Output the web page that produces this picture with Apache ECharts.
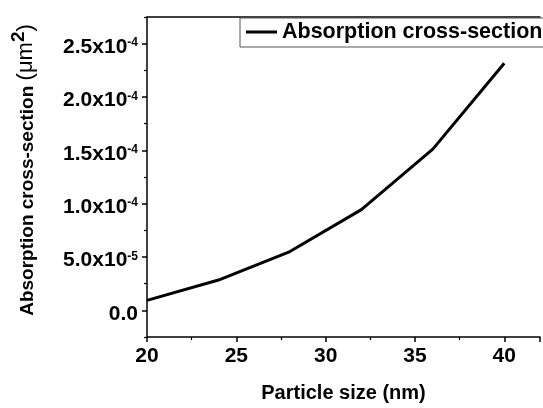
<!DOCTYPE html>
<html>
<head>
<meta charset="utf-8">
<script src="https://cdn.jsdelivr.net/npm/echarts@6/dist/echarts.min.js"></script>
<style>
html,body{margin:0;padding:0;background:#fff;}
#chart{width:543px;height:408px;}
</style>
</head>
<body>
<div id="chart"></div>
<script>
var seriesName = 'Absorption cross-section';
var particleSizes = [20, 24, 28, 32, 36, 40];
var crossSections = [9.3e-6, 2.84e-5, 5.51e-5, 9.44e-5, 1.511e-4, 2.317e-4];
var yTickValues = [0, 5e-5, 1e-4, 1.5e-4, 2e-4, 2.5e-4];
var yTickLabels = ['0.0', '5.0x10{s|-5}', '1.0x10{s|-4}', '1.5x10{s|-4}', '2.0x10{s|-4}', '2.5x10{s|-4}'];
var yMinorValues = [-2.5e-5, 2.5e-5, 7.5e-5, 1.25e-4, 1.75e-4, 2.25e-4, 2.75e-4];
var xAxisTitle = 'Particle size (nm)';

var FONT = '"Liberation Sans", Arial, sans-serif';
var chart = echarts.init(document.getElementById('chart'));
var data = particleSizes.map(function (x, i) { return [x, crossSections[i]]; });

function yLabel(v) {
  for (var i = 0; i < yTickValues.length; i++) {
    if (Math.abs(v - yTickValues[i]) < 1e-9) return yTickLabels[i];
  }
  return '';
}

var yMin = -2.5e-5, yMax = 2.75e-4;

chart.setOption({
  animation: false,
  backgroundColor: '#ffffff',
  grid: { left: 147, top: 17, right: 0, bottom: 67, containLabel: false },
  legend: {
    data: [seriesName],
    left: 240, top: 18,
    icon: 'rect', itemWidth: 31, itemHeight: 3, itemGap: 11,
    borderColor: '#555', borderWidth: 1,
    padding: [3, 10, 4, 6],
    textStyle: { fontFamily: FONT, fontWeight: 'bold', fontSize: 21.5, color: '#000' }
  },
  xAxis: [{
    type: 'value', min: 20, max: 42, interval: 5,
    axisLine: { show: true, onZero: false, lineStyle: { color: '#000', width: 1.5 } },
    axisTick: { show: true, inside: false, length: 5, lineStyle: { color: '#000', width: 1.5 } },
    minorTick: { show: true, splitNumber: 2, length: 3, lineStyle: { color: '#000', width: 1.2 } },
    splitLine: { show: false },
    axisLabel: { margin: 9, fontFamily: FONT, fontWeight: 'bold', fontSize: 21, color: '#000',
      formatter: function (v) { return v > 41 ? '' : String(v); } },
    name: xAxisTitle, nameLocation: 'middle', nameGap: 46,
    nameTextStyle: { fontFamily: FONT, fontWeight: 'bold', fontSize: 20, color: '#000' }
  }, {
    type: 'value', position: 'top', min: 20, max: 42,
    axisLine: { show: true, onZero: false, lineStyle: { color: '#000', width: 1.5 } },
    axisTick: { show: false }, axisLabel: { show: false }, splitLine: { show: false }
  }],
  yAxis: [{
    type: 'value', min: yMin, max: yMax,
    axisLine: { show: true, onZero: false, lineStyle: { color: '#000', width: 1.5 } },
    axisTick: { show: true, inside: false, length: 5, customValues: yTickValues, lineStyle: { color: '#000', width: 1.5 } },
    splitLine: { show: false },
    axisLabel: {
      customValues: yTickValues, margin: 9,
      fontFamily: FONT, fontWeight: 'bold', fontSize: 21, color: '#000',
      padding: [7, 0, 0, 0],
      formatter: yLabel,
      rich: { s: { fontFamily: FONT, fontWeight: 'bold', fontSize: 12, color: '#000', verticalAlign: 'top', lineHeight: 22, padding: [1, 0, 0, 0] } }
    },
    name: '{a|Absorption cross-section }{b|(μm}{c|2}{b|)}',
    nameLocation: 'middle', nameGap: 110,
    nameTextStyle: {
      padding: [0, 0, 0, 14],
      rich: {
        a: { fontFamily: FONT, fontWeight: 'bold', fontSize: 19, color: '#000', lineHeight: 28, verticalAlign: 'bottom' },
        b: { fontFamily: FONT, fontWeight: 'normal', fontSize: 22, color: '#000', lineHeight: 28, verticalAlign: 'bottom' },
        c: { fontFamily: FONT, fontWeight: 'bold', fontSize: 19, color: '#000', lineHeight: 18, verticalAlign: 'top' }
      }
    }
  }, {
    type: 'value', min: yMin, max: yMax, position: 'left',
    axisLine: { show: false },
    axisTick: { show: true, inside: false, length: 3, customValues: yMinorValues, lineStyle: { color: '#000', width: 1.2 } },
    axisLabel: { show: false }, splitLine: { show: false }
  }],
  series: [{
    name: seriesName, type: 'line', data: data,
    xAxisIndex: 0, yAxisIndex: 0,
    showSymbol: false, symbol: 'none',
    lineStyle: { color: '#000', width: 3 },
    itemStyle: { color: '#000' }
  }]
});
</script>
</body>
</html>
